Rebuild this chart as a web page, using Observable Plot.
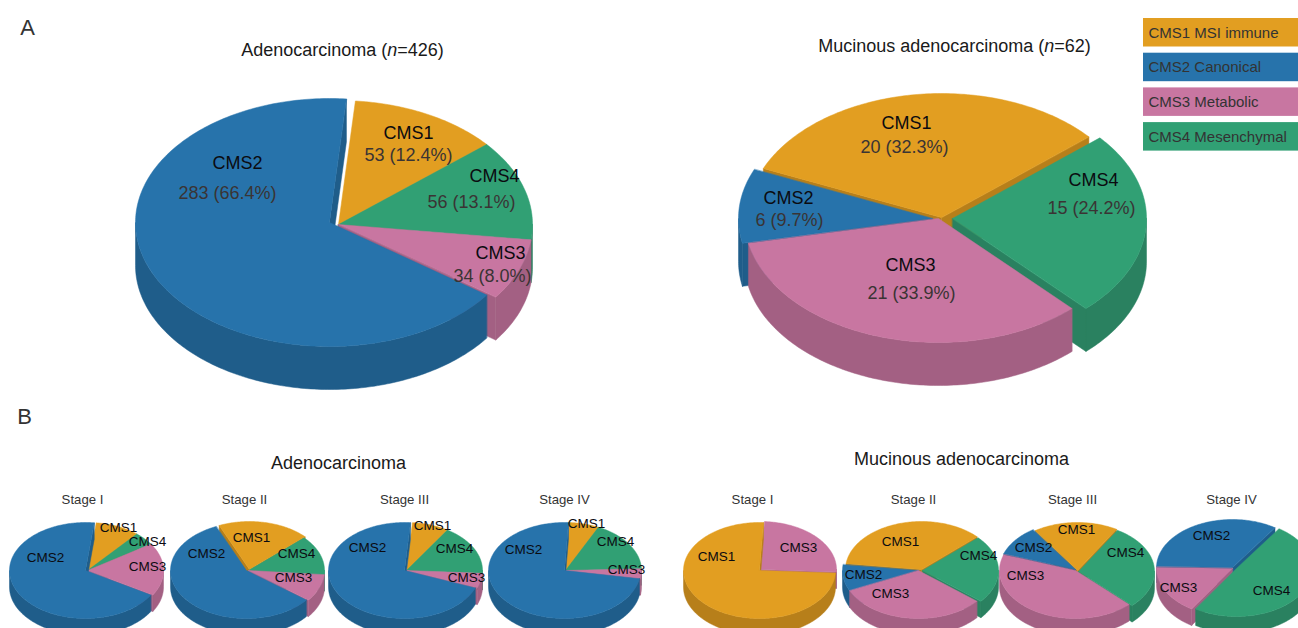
<!DOCTYPE html>
<html>
<head>
<meta charset="utf-8">
<title>Consensus molecular subtypes by histology and stage</title>
<style>
  html, body { margin: 0; padding: 0; background: #fff; overflow: hidden; }
  svg { display: block; }
</style>
<script src="https://cdn.jsdelivr.net/npm/d3@7"></script>
<script src="https://cdn.jsdelivr.net/npm/@observablehq/plot@0.6"></script>
</head>
<body>
<div id="chart"></div>
<script>
// Subtype names and colours
const subtypes = ["CMS1", "CMS2", "CMS3", "CMS4"];
const subtypeNames = ["CMS1 MSI immune", "CMS2 Canonical", "CMS3 Metabolic", "CMS4 Mesenchymal"];
const topColors = ["#e29e21", "#2773ab", "#c876a1", "#31a074"];
const sideColors = ["#b77f1a", "#1f5d8a", "#a36083", "#2a8160"];

// Patient counts for the whole cohorts, clockwise from the first slice
const overallOrder = ["CMS1", "CMS4", "CMS3", "CMS2"];
const adenoCounts = [53, 56, 34, 283];
const mucinousCounts = [20, 15, 21, 6];

// Shares (%) by stage, same clockwise order unless noted
const adenoStageI = [9.4, 4.5, 17.8, 68.3];
const adenoStageII = [19.6, 13.3, 9.2, 57.9];
const adenoStageIII = [7.8, 16.9, 5, 70.3];
const adenoStageIV = [6.3, 17.3, 3.3, 73.1];
const mucinousStageIOrder = ["CMS3", "CMS1"];
const mucinousStageI = [25, 75];
const mucinousStageII = [36.1, 23, 32, 8.9];
const mucinousStageIII = [18, 29, 42.8, 10.2];
const mucinousStageIVOrder = ["CMS4", "CMS3", "CMS2"];
const mucinousStageIV = [49.6, 16.4, 34];

// Pie layout: turn of the first slice, then per slice the apex and label anchors
const large = {rx: 194, ry: 124, depth: 43};
const small = {rx: 76, ry: 48, depth: 16.5};
const pies = [
  {...large, order: overallOrder, values: adenoCounts, start: 5, counted: true,
   apex: [[338, 224], [338, 224], [338, 224], [329, 222]],
   labels: [[408, 133], [494, 176], [500, 253], [237, 163]],
   valueLabels: [[408, 155], [471, 202], [492, 276], [227, 193]]},
  {...large, order: overallOrder, values: mucinousCounts, start: -66.7, counted: true,
   apex: [[941, 217], [952, 218], [938, 218], [932, 218]],
   labels: [[906, 123], [1093, 180], [910, 265], [788, 198]],
   valueLabels: [[904, 147], [1091, 208], [911, 293], [789, 220]]},
  {...small, order: overallOrder, values: adenoStageI, start: 6.6,
   apex: [[87, 570], [87, 570], [87, 570], [85, 570]],
   labels: [[118, 527], [147, 541], [147, 566], [45, 557]]},
  {...small, order: overallOrder, values: adenoStageII, start: -23.5,
   apex: [[249, 569], [248, 570], [248, 570], [246, 570]],
   labels: [[251, 537], [296, 553], [293, 577], [206, 553]]},
  {...small, order: overallOrder, values: adenoStageIII, start: 4.5,
   apex: [[406, 570], [406, 570], [406, 570], [404, 570]],
   labels: [[432, 525], [454, 548], [466, 577], [367, 547]]},
  {...small, order: overallOrder, values: adenoStageIV, start: 3,
   apex: [[565, 570], [565, 570], [565, 570], [564, 570]],
   labels: [[586, 523], [615, 541], [626, 569], [523, 549]]},
  {...small, order: mucinousStageIOrder, values: mucinousStageI, start: 3,
   apex: [[760, 569], [759, 570]],
   labels: [[798, 547], [716, 556]]},
  {...small, order: overallOrder, values: mucinousStageII, start: -83,
   apex: [[921, 569], [922, 570], [918, 570], [918, 570]],
   labels: [[900, 541], [978, 555], [890, 593], [863, 574]]},
  {...small, order: overallOrder, values: mucinousStageIII, start: -34,
   apex: [[1077, 570], [1078, 571], [1075, 570], [1075, 569]],
   labels: [[1076, 529], [1125, 552], [1025, 575], [1033, 547]]},
  {...small, order: mucinousStageIVOrder, values: mucinousStageIV, start: 34,
   apex: [[1236, 568], [1232, 568], [1232, 567]],
   labels: [[1271, 590], [1178, 587], [1211, 535]]}
];

// Headings
const panelLetters = [{t: "A", x: 27, y: 27}, {t: "B", x: 24, y: 416}];
const headings = [
  {t: "Adenocarcinoma (n=426)", x: 342, y: 50},
  {t: "Mucinous adenocarcinoma (n=62)", x: 954, y: 46},
  {t: "Adenocarcinoma", x: 338, y: 463},
  {t: "Mucinous adenocarcinoma", x: 961, y: 459}
];
const stageNames = ["Stage I", "Stage II", "Stage III", "Stage IV"];
const stageX = [82, 244, 404, 564, 752, 913, 1072, 1231];
const stageY = 499;

// Flattens one pie into closed polygons, painted back to front
const deg = Math.PI / 180;
const polygons = [];
const nameLabels = [];
const valueLabels = [];

pies.forEach((pie, p) => {
  const s0 = pie.start * deg;
  const arcs = d3.pie().sort(null).startAngle(s0).endAngle(s0 + 2 * Math.PI)(pie.values);
  const total = d3.sum(pie.values);

  const shapes = arcs.map((arc, i) => ({
    arc, name: pie.order[i], apex: pie.apex[i],
    mid: (arc.startAngle + arc.endAngle) / 2
  }));
  shapes.sort((a, b) => (-Math.cos(a.mid)) - (-Math.cos(b.mid)));

  shapes.forEach((s, q) => {
    const [ax, ay] = s.apex;
    const rim = t => [ax + pie.rx * Math.sin(t), ay - pie.ry * Math.cos(t)];
    const sweep = (a, b) => {
      const n = Math.max(2, Math.ceil((b - a) / deg));
      return d3.range(n + 1).map(k => rim(a + (b - a) * k / n));
    };
    const add = (part, fill, pts) => {
      const id = `${p}-${q}-${part}`;
      pts.forEach(([x, y]) => polygons.push({id, fill, x, y}));
    };
    const side = s.name + " side";
    const a0 = s.arc.startAngle, a1 = s.arc.endAngle;
    const down = ([x, y]) => [x, y + pie.depth];

    // Cut faces that turn toward the viewer
    if (Math.sin(a0) < 0) {
      const r = rim(a0);
      add("cutA", side, [[ax, ay], r, down(r), [ax, ay + pie.depth]]);
    }
    if (Math.sin(a1) > 0) {
      const r = rim(a1);
      add("cutB", side, [[ax, ay], r, down(r), [ax, ay + pie.depth]]);
    }
    // Outer wall along the near half of the rim
    for (let k = -1; k <= 2; k++) {
      const lo = Math.max(a0, Math.PI / 2 + 2 * Math.PI * k);
      const hi = Math.min(a1, 3 * Math.PI / 2 + 2 * Math.PI * k);
      if (hi > lo) {
        const edge = sweep(lo, hi);
        add(`wall${k}`, side, [...edge, ...edge.slice().reverse().map(down)]);
      }
    }
    // Top face
    add("top", s.name, [[ax, ay], ...sweep(a0, a1)]);
  });

  pie.order.forEach((name, i) => {
    nameLabels.push({
      t: name, x: pie.labels[i][0], y: pie.labels[i][1],
      size: pie.counted ? 18 : 13.5
    });
    if (pie.counted) {
      const share = (pie.values[i] / total * 100).toFixed(1);
      valueLabels.push({
        t: `${pie.values[i]} (${share}%)`,
        x: pie.valueLabels[i][0], y: pie.valueLabels[i][1]
      });
    }
  });
});

// Legend rows, stepping down from the top right corner
const legendRows = subtypes.map((name, i) => ({
  name, label: subtypeNames[i],
  y1: 18 + i * 34.7, y2: 46.5 + i * 34.7
}));

const stageRows = stageX.map((x, i) => ({t: stageNames[i % 4], x, y: stageY}));

const font = "Liberation Sans, Arial, sans-serif";

const chart = Plot.plot({
  width: 1298,
  height: 628,
  margin: 0,
  style: {background: "#fff", fontFamily: font},
  x: {domain: [0, 1298], range: [0, 1298], axis: null},
  y: {domain: [0, 628], range: [0, 628], axis: null},
  color: {
    domain: [...subtypes, ...subtypes.map(c => c + " side")],
    range: [...topColors, ...sideColors]
  },
  marks: [
    // A hairline in the fill colour closes the seams between neighbouring faces
    Plot.line(polygons, {
      x: "x", y: "y", z: "id", fill: "fill", stroke: "fill", strokeWidth: 0.5,
      curve: "linear-closed"
    }),
    Plot.rect(legendRows, {
      x1: () => 1143, x2: () => 1298, y1: "y1", y2: "y2", fill: "name"
    }),
    Plot.text(legendRows, {
      x: () => 1148, y: d => (d.y1 + d.y2) / 2, text: "label",
      textAnchor: "start", fontSize: 15, fill: "#333", fontFamily: font
    }),
    Plot.text(nameLabels, {
      x: "x", y: "y", text: "t", fontSize: "size", fill: "#0b0b10", fontFamily: font
    }),
    Plot.text(valueLabels, {
      x: "x", y: "y", text: "t", fontSize: 18, fill: "#3a3434", fontFamily: font
    }),
    Plot.text(headings, {
      x: "x", y: "y", text: "t", fontSize: 18, fill: "#1a1a1a", fontFamily: font
    }),
    Plot.text(stageRows, {
      x: "x", y: "y", text: "t", fontSize: 13.2, fill: "#333", fontFamily: font
    }),
    Plot.text(panelLetters, {
      x: "x", y: "y", text: "t", fontSize: 22, fill: "#333", fontFamily: font
    })
  ]
});

// The sample size symbol in the headings is set in italics
chart.querySelectorAll("text").forEach(node => {
  const match = node.textContent.match(/^(.*\()n(=.*)$/);
  if (!match) return;
  const host = node.querySelector("tspan") || node;
  host.textContent = "";
  [[match[1], false], ["n", true], [match[2], false]].forEach(([part, italic]) => {
    const span = document.createElementNS("http://www.w3.org/2000/svg", "tspan");
    span.textContent = part;
    if (italic) span.setAttribute("font-style", "italic");
    host.appendChild(span);
  });
});

document.getElementById("chart").appendChild(chart);
</script>
</body>
</html>
